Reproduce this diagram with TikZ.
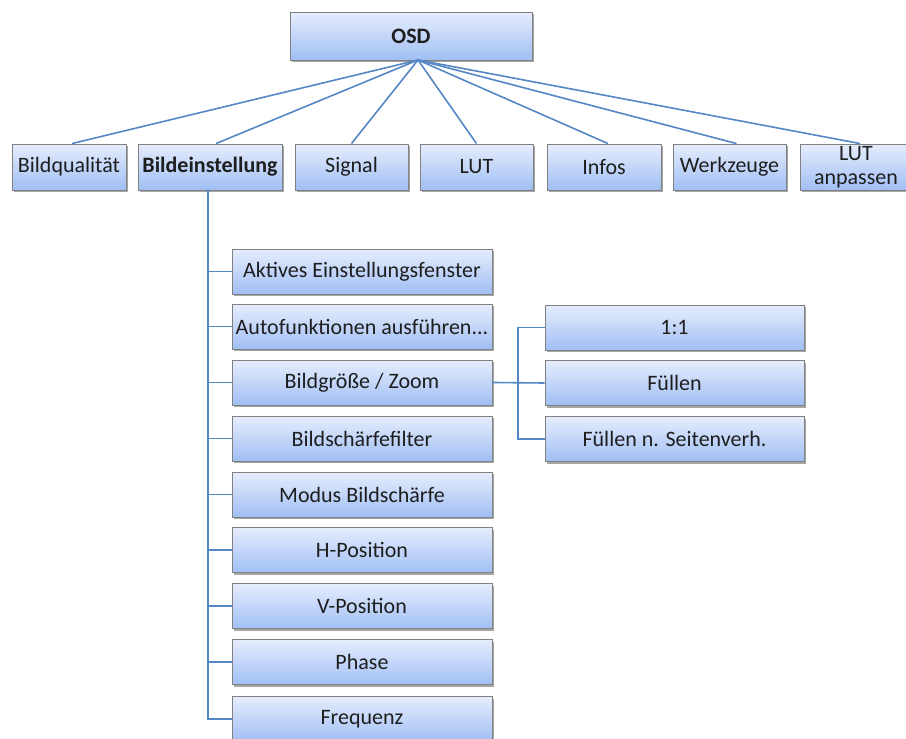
\documentclass[tikz,border=0pt]{standalone}
\usepackage{fontspec}
\setmainfont{Carlito}
\usetikzlibrary{shadows}
\definecolor{boxtop}{RGB}{230,237,252}
\definecolor{boxbot}{RGB}{160,191,245}
\definecolor{boxline}{RGB}{128,128,128}
\definecolor{conn}{RGB}{84,135,196}
\definecolor{txt}{RGB}{30,30,30}
\tikzset{
  box/.style={rectangle, draw=boxline, line width=0.9pt, top color=boxtop, bottom color=boxbot,
    drop shadow={shadow xshift=2pt, shadow yshift=-2pt, fill=black, opacity=0.35},
    text=txt, font=\fontsize{22}{24}\selectfont, align=center, inner sep=0pt},
  top/.style={box, minimum height=46pt},
  child/.style={box, minimum width=260pt, minimum height=45pt},
  sub/.style={box, minimum width=259pt, minimum height=45pt},
  con/.style={draw=conn, line width=1.6pt}
}
\begin{document}
\begin{tikzpicture}[x=1pt,y=-1pt]
\useasboundingbox (0,0) rectangle (906,739);
% top
\node[box, minimum width=242pt, minimum height=48pt, font=\fontsize{22}{24}\selectfont\bfseries] (osd) at (411,36) {OSD};
% second row
\node[top, minimum width=114pt] (bq) at (69,167) {Bildqualität};
\node[top, minimum width=144pt, font=\fontsize{22}{24}\selectfont\bfseries] (be) at (210,167) {Bildeinstellung};
\node[top, minimum width=113pt] (sig) at (351.5,167) {Signal};
\node[top, minimum width=113pt] (lut) at (476.5,167) {LUT};
\node[top, minimum width=114pt] (inf) at (604,167) {Infos};
\node[top, minimum width=113pt] (wz) at (729.5,167) {Werkzeuge};
\node[top, minimum width=112pt] (la) at (856,167) {LUT\\anpassen};
% children
\node[child] (c1) at (362,271.5) {Aktives Einstellungsfenster};
\node[child] (c2) at (362,326.5) {Autofunktionen ausführen...};
\node[child] (c3) at (362,382.5) {Bildgröße / Zoom};
\node[child] (c4) at (362,438.5) {Bildschärfefilter};
\node[child] (c5) at (362,494.5) {Modus Bildschärfe};
\node[child] (c6) at (362,550) {H-Position};
\node[child] (c7) at (362,606) {V-Position};
\node[child] (c8) at (362,662) {Phase};
\node[child] (c9) at (362,719) {Frequenz};
% sub
\node[sub] (s1) at (674.5,327.5) {1:1};
\node[sub] (s2) at (674.5,383) {Füllen};
\node[sub] (s3) at (674.5,439) {Füllen n. Seitenverh.};
% fan
\coordinate (fan) at (418,60);
\draw[con] (fan) -- ([xshift=3pt]bq.north);
\draw[con] (fan) -- ([xshift=6pt]be.north);
\draw[con] (fan) -- (sig.north);
\draw[con] (fan) -- (lut.north);
\draw[con] (fan) -- ([xshift=4pt]inf.north);
\draw[con] (fan) -- ([xshift=7pt]wz.north);
\draw[con] (fan) -- ([xshift=4pt]la.north);
% trunk
\coordinate (trunk) at (208,190);
\draw[con] (trunk) |- (c9.west);
\foreach \c in {c1,c2,c3,c4,c5,c6,c7,c8}{
  \draw[con] (trunk |- \c.west) -- (\c.west);
}
% sub connectors
\coordinate (sj) at (518,383);
\draw[con] (c3.east) -- (s2.west);
\draw[con] (s1.west) -| (sj) |- (s3.west);
\end{tikzpicture}
\end{document}
